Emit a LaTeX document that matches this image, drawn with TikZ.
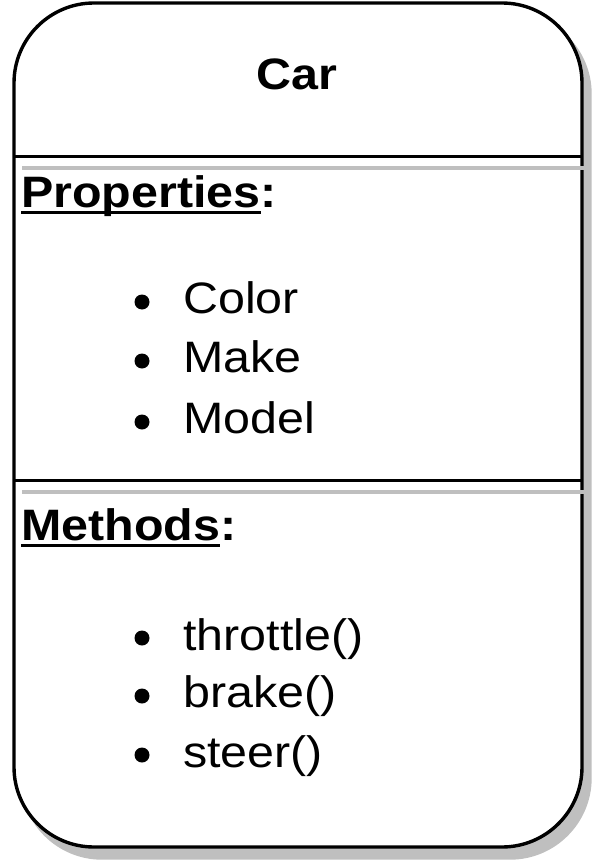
\documentclass[tikz,border=0pt]{standalone}
\usepackage{fontspec}
\setmainfont[FakeStretch=1.1]{Liberation Sans}
\newcommand\ulword[1]{\setbox0\hbox{#1}\rlap{\rule[-6.5pt]{\wd0}{3pt}}\box0}
\tikzset{
  frame/.style={line width=3.4pt, rounded corners=80pt},
  shade/.style={fill=shadowgray, draw=shadowgray, line width=3.4pt, rounded corners=80pt},
  sep/.style={line width=3.4pt},
  sepshadow/.style={line width=3.4pt, draw=shadowgray},
  txt/.style={anchor=base west, inner sep=0pt, font=\fontsize{44}{50}\selectfont},
  ttl/.style={anchor=base, inner sep=0pt, font=\fontsize{44}{50}\selectfont\bfseries},
  dot/.style={circle, fill=black, inner sep=0pt, minimum size=15pt}
}
\definecolor{shadowgray}{HTML}{BFBFBF}
\begin{document}
\begin{tikzpicture}[x=1pt,y=-1pt]
\useasboundingbox (0,0) rectangle (599,864);
% shadow
\draw[shade] (22,14) rectangle (590,858);
% frame
\draw[frame, fill=white] (14,3) rectangle (582,847);
% separators
\coordinate (s1l) at (22,168); \coordinate (s1r) at (590,168);
\coordinate (s2l) at (22,492); \coordinate (s2r) at (590,492);
\draw[sepshadow] (s1l) -- (s1r);
\draw[sepshadow] (s2l) -- (s2r);
\coordinate (l1l) at (14,156.5); \coordinate (l1r) at (582,156.5);
\coordinate (l2l) at (14,480.5); \coordinate (l2r) at (582,480.5);
\draw[sep] (l1l) -- (l1r);
\draw[sep] (l2l) -- (l2r);
% title
\node[ttl] (car) at (297,90) {Car};
% properties
\node[txt, font=\fontsize{44}{50}\selectfont\bfseries] (props) at (21,207) {\ulword{Properties}:};
\node[dot] (d1) at (142,302) {};
\node[txt] (color) at (183,313) {Color};
\node[dot] (d2) at (142,361) {};
\node[txt] (make) at (183,372) {Make};
\node[dot] (d3) at (142,422) {};
\node[txt] (model) at (183,433) {Model};
% methods
\node[txt, font=\fontsize{44}{50}\selectfont\bfseries] (meths) at (21,540) {\ulword{Methods}:};
\node[dot] (d4) at (142,638) {};
\node[txt] (throttle) at (183,650) {throttle()};
\node[dot] (d5) at (142,696) {};
\node[txt] (brake) at (183,707) {brake()};
\node[dot] (d6) at (142,755) {};
\node[txt] (steer) at (183,767) {steer()};
\end{tikzpicture}
\end{document}
